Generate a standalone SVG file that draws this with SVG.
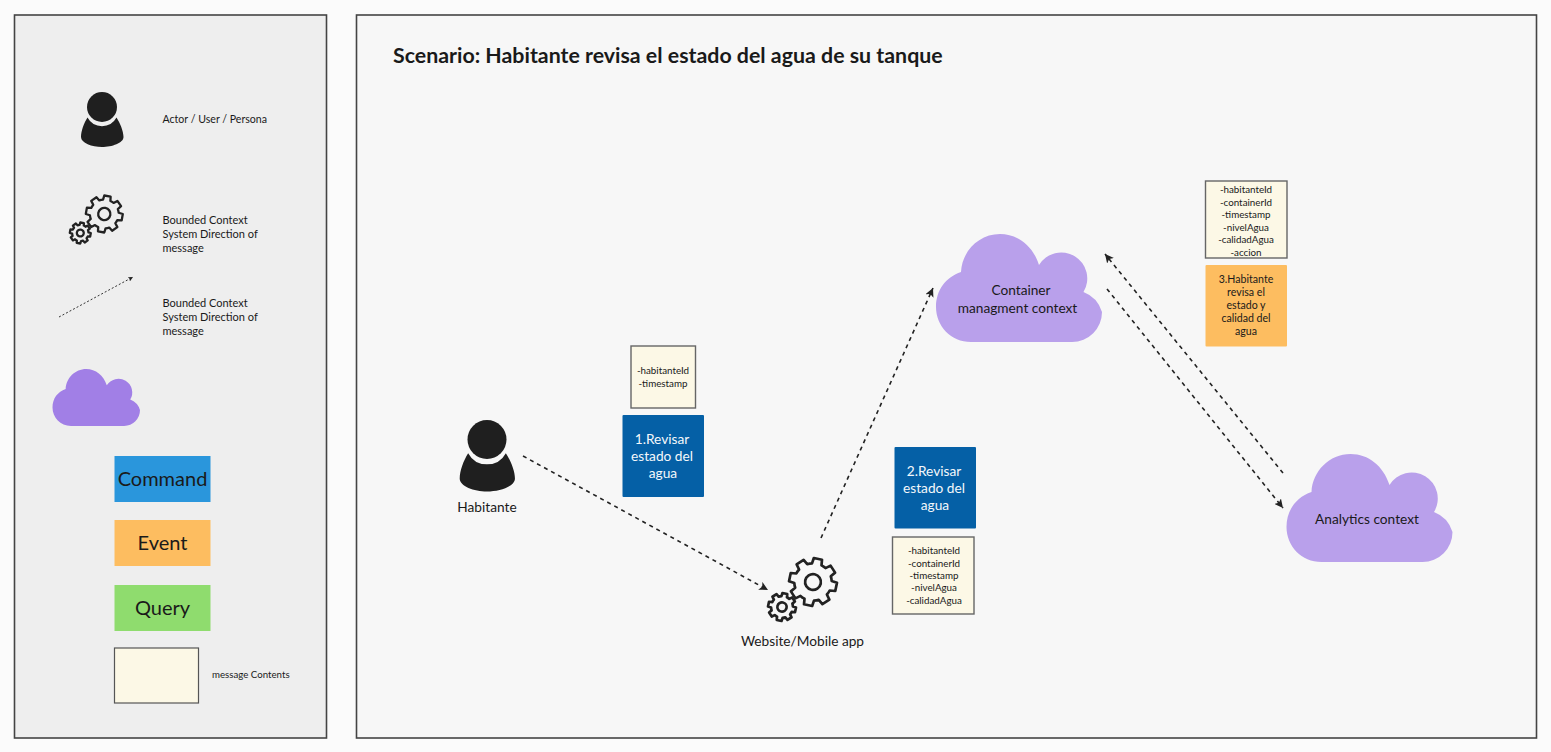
<svg xmlns="http://www.w3.org/2000/svg" xmlns:xlink="http://www.w3.org/1999/xlink" width="1551" height="752" viewBox="0 0 1551 752">
<style>
text{font-family:"Lato","Open Sans","Liberation Sans",sans-serif;fill:#1a1a1a}
.panel{stroke:#444;stroke-width:1.6}
.c{text-anchor:middle}
.w{fill:#f4f8fb}
.s13{font-size:13.7px}
.s11{font-size:11px}
.s105{font-size:10.6px}
.s10{font-size:9.8px}
.msg{fill:#fcf8e6;stroke:#666;stroke-width:1.4}
.gear{fill:none;stroke:#222;stroke-linejoin:round;vector-effect:non-scaling-stroke}
.flow{fill:none;stroke:#222;stroke-width:1.6;stroke-dasharray:4 4;marker-end:url(#arrow)}
</style>
<defs>
<marker id="arrow" viewBox="0 0 10 10" refX="10" refY="5" markerWidth="5.500" markerHeight="5.500" orient="auto" markerUnits="strokeWidth"><path d="M0 0L10 5L0 10L2.5 5Z" fill="#222"/></marker>
<marker id="arrowSmall" viewBox="0 0 10 10" refX="10" refY="5" markerWidth="5" markerHeight="5" orient="auto" markerUnits="strokeWidth"><path d="M0 0L10 5L0 10L2.5 5Z" fill="#222"/></marker>
<path id="cloud" d="M35 108C15 108 0 92 0 73C0 56 10 43 25 38C26 17 43 0 64 0C82 0 97 12 103 31A24 24 0 0 1 147.500 58A31 31 0 0 1 166 78A30 30 0 0 1 136 108Z"/>
<g id="person" fill="#1f1f1f"><circle cx="102" cy="107" r="15"/><path d="M87.500 117.500A16.500 16.500 0 0 0 116.500 117.500C120 123 123.500 131 123.500 137C123.500 143 112 147 102 147C92 147 81 143 81 137C81 131 84 123 87.500 117.500Z"/></g>
<g id="gear"><path class="gear" d="M75.300-20.200L98.500-17.400L98.500 17.400L75.300 20.200A78 78 0 0 1 67.500 39L81.900 57.400L57.400 81.900L39 67.500A78 78 0 0 1 20.200 75.300L17.400 98.500L-17.400 98.500L-20.200 75.300A78 78 0 0 1-39 67.500L-57.400 81.900L-81.900 57.400L-67.500 39A78 78 0 0 1-75.300 20.200L-98.500 17.400L-98.500-17.400L-75.300-20.200A78 78 0 0 1-67.500-39L-81.900-57.400L-57.400-81.900L-39-67.500A78 78 0 0 1-20.200-75.300L-17.400-98.500L17.400-98.500L20.200-75.300A78 78 0 0 1 39-67.500L57.400-81.900L81.900-57.400L67.500-39A78 78 0 0 1 75.300-20.200Z"/><circle class="gear" r="33"/></g>
</defs>
<rect width="1551" height="752" fill="#fbfbfb"/>
<rect id="legend-panel" class="panel" x="14.500" y="15" width="312" height="723" fill="#eeeeee"/>
<rect id="main-panel" class="panel" x="356.500" y="15" width="1180" height="723" fill="#f7f7f7"/>
<text id="title" x="393" y="63" font-size="21.350" font-weight="700" fill="#000">Scenario: Habitante revisa el estado del agua de su tanque</text>

<g id="legend-actor"><use href="#person"/><text class="s105" x="162.500" y="123">Actor / User / Persona</text></g>
<g id="legend-system" stroke-width="2.300"><use href="#gear" transform="translate(104.300 214) rotate(10) scale(.185)"/><use href="#gear" transform="translate(80.300 233) rotate(10) scale(.105)"/>
<text class="s11" x="162.500" y="224">Bounded Context</text><text class="s11" x="162.500" y="238">System Direction of</text><text class="s11" x="162.500" y="252">message</text></g>
<g id="legend-direction"><path d="M59 317L133 277" fill="none" stroke="#333" stroke-width="1" stroke-dasharray="2 2" marker-end="url(#arrowSmall)"/>
<text class="s11" x="162.500" y="307">Bounded Context</text><text class="s11" x="162.500" y="321">System Direction of</text><text class="s11" x="162.500" y="335">message</text></g>
<g id="legend-cloud"><use href="#cloud" fill="#a17fe6" transform="translate(52.500 369) scale(.527)"/></g>
<g id="legend-command"><rect x="114.500" y="456" width="96" height="46" fill="#2a96dc"/><text class="c" x="162.500" y="486" font-size="20">Command</text></g>
<g id="legend-event"><rect x="114.500" y="520" width="96" height="46" fill="#fdbd60"/><text class="c" x="162.500" y="550" font-size="20">Event</text></g>
<g id="legend-query"><rect x="114.500" y="585" width="96" height="46" fill="#8fdc6e"/><text class="c" x="162.500" y="615" font-size="20">Query</text></g>
<g id="legend-message"><rect x="114.500" y="648" width="84" height="55" fill="#fcf8e6" stroke="#555" stroke-width="1.200"/><text x="212" y="678" font-size="9.700">message Contents</text></g>

<g id="connectors">
<path class="flow" d="M523 456L768 590"/>
<path class="flow" d="M821 538L933 288"/>
<path class="flow" d="M1283 473L1105 254"/>
<path class="flow" d="M1107 289L1283 508"/>
</g>

<g id="habitante"><use href="#person" transform="translate(354.400 300.400) scale(1.300)"/><text class="c s13" x="487" y="512">Habitante</text></g>
<g id="msg-1"><rect class="msg" x="631" y="346" width="64.500" height="62"/><text class="c s10" x="663" y="374">-habitanteId</text><text class="c s10" x="663" y="387">-timestamp</text></g>
<g id="cmd-1"><rect x="622.500" y="415" width="81.500" height="82" rx="1" fill="#0560a6"/><text class="c w s13" x="662" y="444">1.Revisar</text><text class="c w s13" x="662" y="461">estado del</text><text class="c w s13" x="663" y="478">agua</text></g>
<g id="website" stroke-width="2.700"><use href="#gear" transform="translate(813 582) rotate(12) scale(.24)"/><use href="#gear" transform="translate(782 607) rotate(12) scale(.14)"/><text class="c s13" x="802.500" y="646">Website/Mobile app</text></g>
<g id="cmd-2"><rect x="894.500" y="447" width="81.500" height="81.500" rx="1" fill="#0560a6"/><text class="c w s13" x="934" y="476">2.Revisar</text><text class="c w s13" x="934" y="493">estado del</text><text class="c w s13" x="935" y="510">agua</text></g>
<g id="msg-2"><rect class="msg" x="892.500" y="537" width="81.500" height="77"/><text class="c s10" x="934" y="554">-habitanteId</text><text class="c s10" x="934" y="567">-containerId</text><text class="c s10" x="934" y="579">-timestamp</text><text class="c s10" x="934" y="591">-nivelAgua</text><text class="c s10" x="934" y="604">-calidadAgua</text></g>
<g id="container-context"><use href="#cloud" fill="#b9a0eb" transform="translate(936 234)"/><text class="c s13" x="1021" y="295">Container</text><text class="c s13" x="1017.500" y="313">managment context</text></g>
<g id="msg-3"><rect class="msg" x="1205.500" y="181" width="81.500" height="77"/><text class="c s10" x="1246" y="193">-habitanteId</text><text class="c s10" x="1246" y="206">-containerId</text><text class="c s10" x="1246" y="218">-timestamp</text><text class="c s10" x="1246" y="231">-nivelAgua</text><text class="c s10" x="1246" y="243">-calidadAgua</text><text class="c s10" x="1246" y="256">-accion</text></g>
<g id="event-3"><rect x="1205.500" y="265" width="81.500" height="81.500" rx="1" fill="#fdbd60"/><text class="c s105" x="1246" y="283">3.Habitante</text><text class="c s105" x="1246" y="296">revisa el</text><text class="c s105" x="1246" y="309">estado y</text><text class="c s105" x="1246" y="322">calidad del</text><text class="c s105" x="1246" y="335">agua</text></g>
<g id="analytics-context"><use href="#cloud" fill="#b9a0eb" transform="translate(1286.500 454)"/><text class="c s13" x="1367" y="524">Analytics context</text></g>
</svg>
